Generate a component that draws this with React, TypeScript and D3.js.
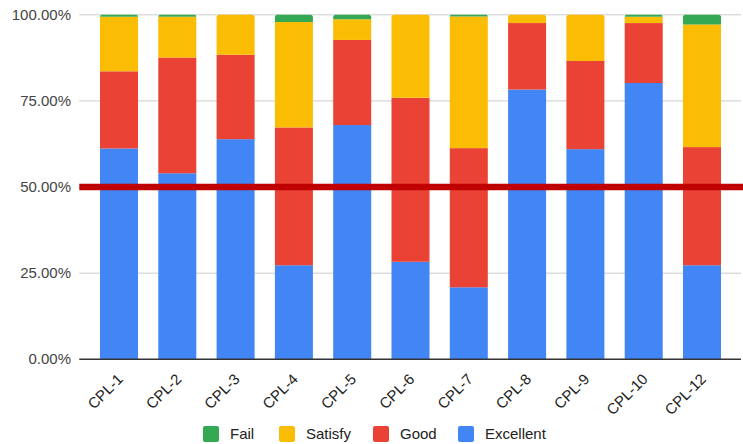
import React from "react";
import * as d3 from "d3";

const categories = ["CPL-1", "CPL-2", "CPL-3", "CPL-4", "CPL-5", "CPL-6", "CPL-7", "CPL-8", "CPL-9", "CPL-10", "CPL-12"];
const excellent = [61.2, 54.0, 63.9, 27.3, 68.0, 28.3, 20.9, 78.3, 61.0, 80.2, 27.3];
const good = [22.4, 33.6, 24.5, 40.0, 24.7, 47.6, 40.4, 19.3, 25.6, 17.4, 34.3];
const satisfy = [15.8, 11.8, 11.6, 30.6, 6.0, 24.1, 38.2, 2.4, 13.4, 1.8, 35.6];
const fail = [0.6, 0.6, 0.0, 2.1, 1.3, 0.0, 0.5, 0.0, 0.0, 0.6, 2.8];
const targetLine = 0.5;
const yTicks = [0, 0.25, 0.5, 0.75, 1];
const seriesNames = ["Excellent", "Good", "Satisfy", "Fail"];
const seriesColors = ["#4285F4", "#EA4335", "#FBBC04", "#34A853"];
const legendOrder = ["Fail", "Satisfy", "Good", "Excellent"];

const W = 743;
const H = 444;
const plotLeft = 79.3;
const plotRight = 741;
const yTop = 14.8;
const yBottom = 359.3;
const FONT = "'Liberation Sans', Arial, sans-serif";

function topRounded(x0: number, y0: number, w: number, h: number, r: number) {
  const rr = Math.min(r, h, w / 2);
  const p = d3.path();
  p.moveTo(x0, y0 + h);
  p.lineTo(x0, y0 + rr);
  p.arcTo(x0, y0, x0 + rr, y0, rr);
  p.lineTo(x0 + w - rr, y0);
  p.arcTo(x0 + w, y0, x0 + w, y0 + rr, rr);
  p.lineTo(x0 + w, y0 + h);
  p.closePath();
  return p.toString();
}

export default function App() {
  const rows = categories.map((c, i) => {
    const vals = [excellent[i], good[i], satisfy[i], fail[i]];
    const total = d3.sum(vals);
    const o: any = { cat: c };
    seriesNames.forEach((s, k) => (o[s] = vals[k] / total));
    return o;
  });
  const stack = d3.stack<any>().keys(seriesNames)(rows);

  const x = d3.scaleBand<string>().domain(categories).range([89.85, 731.15]).paddingInner(0.348).paddingOuter(0.174);
  const y = d3.scaleLinear().domain([0, 1]).range([yBottom, yTop]);
  const fmt = d3.format(".2%");

  const legendX = [203, 279, 373, 458];

  // index of topmost non-empty layer per category
  const topLayer = categories.map((_, i) => {
    let t = 0;
    stack.forEach((layer, k) => {
      if (layer[i][1] - layer[i][0] > 0) t = k;
    });
    return t;
  });

  return (
    <svg width={W} height={H} style={{ position: "absolute", left: 0, top: 0, background: "#fff" }} fontFamily={FONT}>
      {yTicks.map((t) => (
        <g key={t}>
          {t > 0 && <line x1={plotLeft} x2={plotRight} y1={y(t)} y2={y(t)} stroke="#cccccc" strokeWidth={1} />}
          <text x={71} y={y(t) + 5} textAnchor="end" fontSize={15} fill="#444">
            {fmt(t)}
          </text>
        </g>
      ))}
      {stack.map((layer, k) =>
        layer.map((d, i) => {
          const h = y(d[0]) - y(d[1]);
          if (h <= 0) return null;
          const x0 = x(categories[i]) as number;
          const w = x.bandwidth();
          if (topLayer[i] === k) {
            return <path key={k + "-" + i} d={topRounded(x0, y(d[1]), w, h, 2.5)} fill={seriesColors[k]} />;
          }
          return <rect key={k + "-" + i} x={x0} y={y(d[1])} width={w} height={h} fill={seriesColors[k]} />;
        })
      )}
      <line x1={plotLeft} x2={plotRight} y1={yBottom} y2={yBottom} stroke="#333" strokeWidth={1.5} />
      <line x1={plotLeft} x2={W} y1={y(targetLine)} y2={y(targetLine)} stroke="#C00000" strokeWidth={6.5} />
      {categories.map((c) => {
        const cx = (x(c) as number) + x.bandwidth() / 2;
        return (
          <text key={c} transform={`translate(${cx + 5},${380}) rotate(-45)`} textAnchor="end" fontSize={15} fill="#222">
            {c}
          </text>
        );
      })}
      {legendOrder.map((name, j) => {
        const k = seriesNames.indexOf(name);
        return (
          <g key={name}>
            <rect x={legendX[j]} y={426} width={16} height={16} rx={2} fill={seriesColors[k]} />
            <text x={legendX[j] + 27} y={439} fontSize={15} fill="#222">
              {name}
            </text>
          </g>
        );
      })}
    </svg>
  );
}
